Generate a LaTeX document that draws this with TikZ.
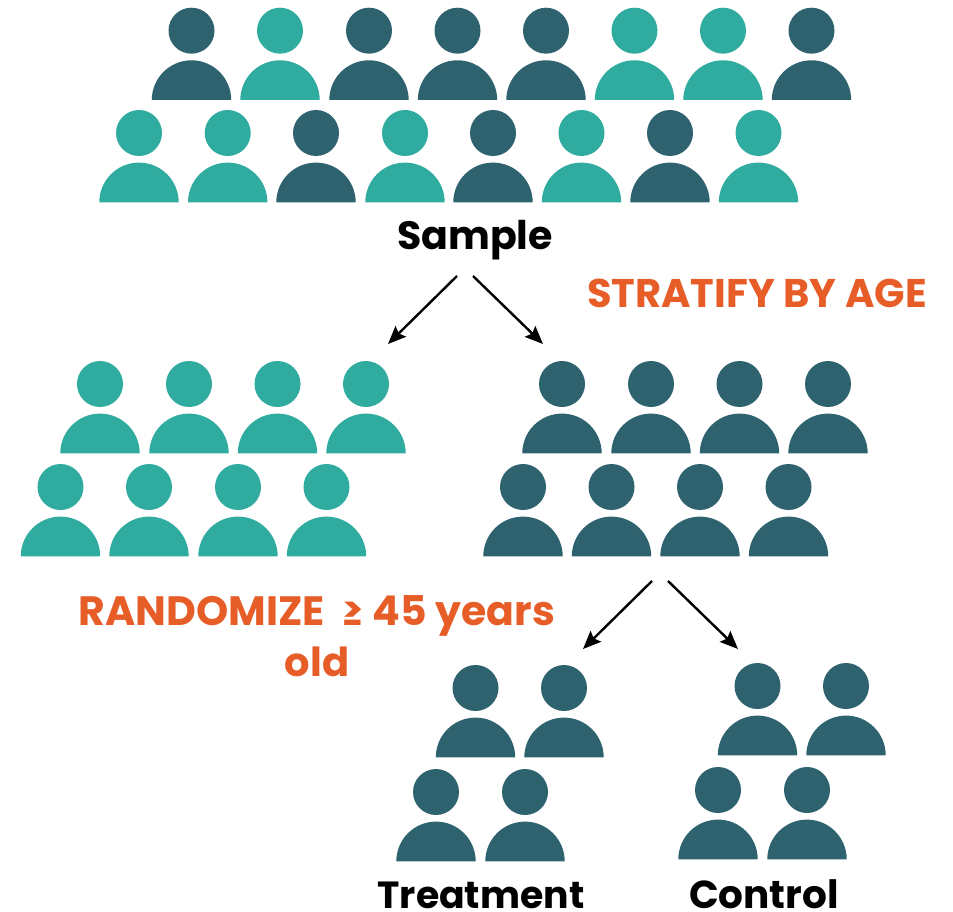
\documentclass[tikz,border=0pt]{standalone}
\usepackage{fontspec}
\setmainfont{Poppins}
\usetikzlibrary{arrows.meta}
\definecolor{darkteal}{HTML}{2E626F}
\definecolor{lightteal}{HTML}{2FAB9F}
\definecolor{orangetxt}{HTML}{E75D28}
\newcommand{\prsn}[3]{%
  \fill[#3] (#1,#2) circle (23);
  \fill[#3] (#1-39.7,#2+69.3) arc[start angle=180,end angle=360,radius=39.7] -- cycle;
}
\tikzset{
  x=1pt,y=-1pt,
  blacklabel/.style={text=black,font=\fontsize{39}{44}\selectfont\bfseries,inner sep=0pt,anchor=base},
  orangelabel/.style={text=orangetxt,font=\fontsize{40}{50}\selectfont\bfseries,inner sep=0pt,anchor=base},
  flow/.style={draw=black,line width=2.4pt,-{Stealth[length=18pt,width=15pt,inset=3pt]}}
}
\begin{document}
\begin{tikzpicture}
\useasboundingbox (0,0) rectangle (953,912);
% sample
\foreach \px/\col in {191.5/darkteal,280/lightteal,369/darkteal,457.5/darkteal,546/darkteal,634.5/lightteal,723/lightteal,811.5/darkteal}{\prsn{\px}{30.7}{\col}}
\foreach \px/\col in {139/lightteal,227.7/lightteal,316/darkteal,405/lightteal,493/darkteal,581.5/lightteal,670/darkteal,758.5/lightteal}{\prsn{\px}{133}{\col}}
% strata
\foreach \px in {100,189,277.5,366}{\prsn{\px}{384}{lightteal}}
\foreach \px in {60.5,149,238,326.5}{\prsn{\px}{487}{lightteal}}
\foreach \px in {562,651,739.5,828}{\prsn{\px}{384}{darkteal}}
\foreach \px in {523,611.5,700,788.5}{\prsn{\px}{487}{darkteal}}
% arms
\foreach \px in {475.5,564}{\prsn{\px}{688}{darkteal}}
\foreach \px in {436,525}{\prsn{\px}{792}{darkteal}}
\foreach \px in {757.5,846}{\prsn{\px}{686}{darkteal}}
\foreach \px in {718,807}{\prsn{\px}{790}{darkteal}}
% labels
\node[blacklabel,font=\fontsize{39.5}{44}\selectfont\bfseries] (sample) at (475,250) {Sample};
\node[orangelabel] (stratify) at (757,307) {STRATIFY BY AGE};
\node[orangelabel,font=\fontsize{41}{50}\selectfont\bfseries] (randomize) at (317,625) {RANDOMIZE\ \ ≥ 45 years};
\node[orangelabel] (old) at (317,676) {old};
\node[blacklabel,font=\fontsize{37.8}{44}\selectfont\bfseries] (treatment) at (481,908) {Treatment};
\node[blacklabel] (control) at (764,908) {Control};
% connectors
\coordinate (a1) at (457,276); \coordinate (a1e) at (388,344);
\coordinate (a2) at (473,276); \coordinate (a2e) at (543,344);
\coordinate (b1) at (652,581); \coordinate (b1e) at (583,649);
\coordinate (b2) at (668,581); \coordinate (b2e) at (738,649);
\draw[flow] (a1) -- (a1e);
\draw[flow] (a2) -- (a2e);
\draw[flow] (b1) -- (b1e);
\draw[flow] (b2) -- (b2e);
\end{tikzpicture}
\end{document}
